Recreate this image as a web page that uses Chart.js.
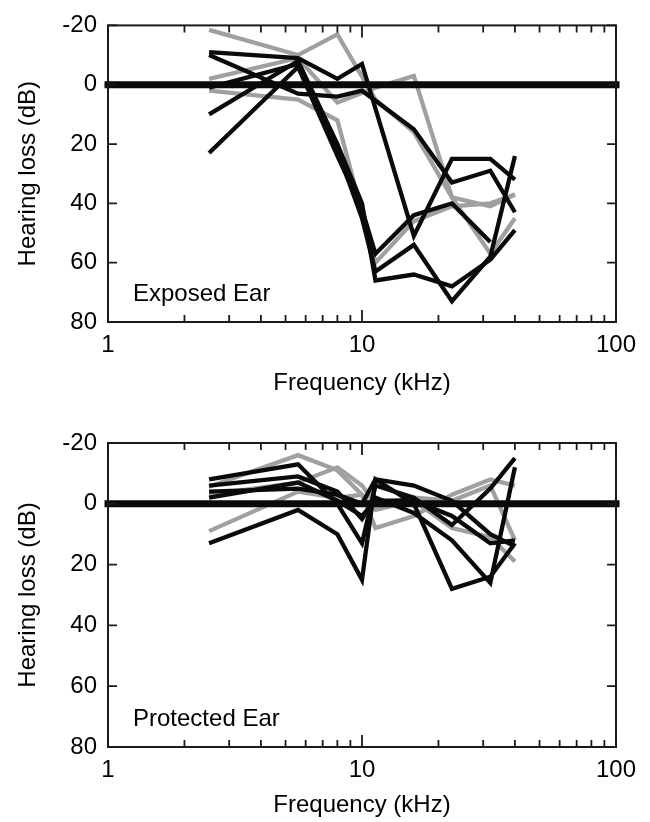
<!DOCTYPE html>
<html>
<head>
<meta charset="utf-8">
<script src="https://cdn.jsdelivr.net/npm/chart.js@4.4.1/dist/chart.umd.min.js"></script>
<style>
  html, body { margin: 0; padding: 0; background: #fff; }
  canvas { display: block; }
</style>
</head>
<body>
<canvas id="exposed" width="650" height="411"></canvas>
<canvas id="protected" width="650" height="411"></canvas>
<script>
// test frequencies (kHz); null = not measured for that animal
const freqs = [2.5, 5.6, 8, 10, 11.3, 16, 22.6, 32, 40];
const freqTicks = [1, 10, 100];
const lossTicks = [-20, 0, 20, 40, 60, 80];
const zeroFreqs = [1, 100];
const zeroLoss = [0, 0];

// exposed ear, black traces
const expBlack1 = [-11, -9, -2, -7, null, 51, 25, 25, 32];
const expBlack2 = [-10, 3, 4, 2, null, 15, 33, 29, 43];
const expBlack3 = [10, -8, 20, 40, 66, 64, 68, 59, 49];
const expBlack4 = [23, -6, 24, 42, 57, 44, 40, 53, null];
const expBlack5 = [1, -7, 22, 45, 63, 54, 73, 58, 24];
// exposed ear, grey traces
const expGrey1 = [-18.5, -10, -17, null, 5, 16, 38, 41, 37];
const expGrey2 = [-2, -9, 6, null, 1, -3, 38, 57, 45];
const expGrey3 = [2, 5, 12, null, 60, 46, 41, 40, 37];

// protected ear, black traces
const proBlack1 = [13, 2, 10, 25, -8, 0, 28, 24, 13];
const proBlack2 = [-8, -13, 0, 13, -6, -2, 7, -5, -15];
const proBlack3 = [-6, -9, -4, 5, -2, 3, 12, 26, -12];
const proBlack4 = [-4, -5, -3, 0, -8, -6, -1, 10, 14];
const proBlack5 = [-2, -7, -1, 4, -1, -1, 4, 13, 12];
// protected ear, grey traces
const proGrey1 = [-5.6, -16, -11, -3, 8, 4, -3, -8, -6];
const proGrey2 = [9, -4, -2, -3, 2, -1, 8, 11, 19];
const proGrey3 = [-3, -7, -12, -6, 0, -2, -1, -6, 12];

const BLACK = "#0a0a0a";
const GREY = "#a0a0a0";
const FONT = "'Liberation Sans', Arial, sans-serif";

function toPoints(xs, ys) {
  return xs.map((x, i) => ({ x: x, y: ys[i] }));
}

function trace(vals, color) {
  return {
    data: toPoints(freqs, vals),
    borderColor: color,
    borderWidth: 4.3,
    pointRadius: 0,
    fill: false,
    tension: 0,
    spanGaps: true,
    order: 2
  };
}

// frame, inward ticks and panel caption
const frameTicks = {
  id: "frameTicks",
  afterDraw(chart, args, opts) {
    const { ctx, chartArea: a, scales } = chart;
    const xs = scales.x, ys = scales.y;
    ctx.save();
    ctx.strokeStyle = "#1a1a1a";
    ctx.lineWidth = 2;
    ctx.strokeRect(a.left, a.top, a.right - a.left, a.bottom - a.top);

    ctx.lineWidth = 1.8;
    ctx.beginPath();
    [1, 10].forEach(dec => {
      for (let m = 1; m <= 10; m++) {
        const v = dec * m;
        if (v > 100) continue;
        const px = xs.getPixelForValue(v);
        const len = (m === 1 || m === 10) ? 12 : 7;
        ctx.moveTo(px, a.bottom);
        ctx.lineTo(px, a.bottom - len);
        ctx.moveTo(px, a.top);
        ctx.lineTo(px, a.top + len);
      }
    });
    lossTicks.forEach(v => {
      const py = ys.getPixelForValue(v);
      ctx.moveTo(a.left, py);
      ctx.lineTo(a.left + 9, py);
      ctx.moveTo(a.right, py);
      ctx.lineTo(a.right - 9, py);
    });
    ctx.stroke();

    ctx.fillStyle = "#000";
    ctx.font = "24px " + FONT;
    ctx.textAlign = "left";
    ctx.textBaseline = "alphabetic";
    ctx.fillText(opts.text, a.left + 25, a.bottom - 21);
    ctx.restore();
  }
};

function makeChart(id, blacks, greys, caption, padTop, xHeight, titlePad) {
  const datasets = [
    {
      data: toPoints(zeroFreqs, zeroLoss),
      borderColor: BLACK,
      borderWidth: 7,
      borderCapStyle: "square",
      pointRadius: 0,
      clip: false,
      order: 0
    }
  ];
  blacks.forEach(v => datasets.push(trace(v, BLACK)));
  greys.forEach(v => datasets.push(Object.assign(trace(v, GREY), { order: 3 })));

  return new Chart(document.getElementById(id), {
    type: "line",
    data: { datasets },
    options: {
      responsive: false,
      animation: false,
      devicePixelRatio: 1,
      layout: { padding: { top: padTop, right: 34, left: 0, bottom: 0 } },
      plugins: {
        legend: { display: false },
        tooltip: { enabled: false },
        frameTicks: { text: caption }
      },
      scales: {
        x: {
          type: "logarithmic",
          min: 1,
          max: 100,
          grid: { display: false, drawTicks: false },
          border: { display: false },
          afterBuildTicks: s => { s.ticks = freqTicks.map(v => ({ value: v })); },
          afterFit: s => { s.height = xHeight; },
          ticks: {
            padding: 9,
            color: "#000",
            font: { family: FONT, size: 24 },
            maxRotation: 0,
            callback: v => String(v)
          },
          title: {
            display: true,
            text: "Frequency (kHz)",
            color: "#000",
            font: { family: FONT, size: 24 },
            padding: { top: 0, bottom: titlePad }
          }
        },
        y: {
          type: "linear",
          reverse: true,
          min: -20,
          max: 80,
          grid: { display: false, drawTicks: false },
          border: { display: false },
          afterBuildTicks: s => { s.ticks = lossTicks.map(v => ({ value: v })); },
          afterFit: s => { s.width = 108; },
          ticks: {
            padding: 11,
            color: "#000",
            font: { family: FONT, size: 24 },
            callback: v => String(v)
          },
          title: {
            display: true,
            text: "Hearing loss (dB)",
            color: "#000",
            font: { family: FONT, size: 24 },
            padding: { top: 13.6, bottom: 0 }
          }
        }
      }
    },
    plugins: [frameTicks]
  });
}

makeChart("exposed",
  [expBlack1, expBlack2, expBlack3, expBlack4, expBlack5],
  [expGrey1, expGrey2, expGrey3],
  "Exposed Ear", 18, 89, 13.6);

makeChart("protected",
  [proBlack1, proBlack2, proBlack3, proBlack4, proBlack5],
  [proGrey1, proGrey2, proGrey3],
  "Protected Ear", 32, 75, 2.6);
</script>
</body>
</html>
